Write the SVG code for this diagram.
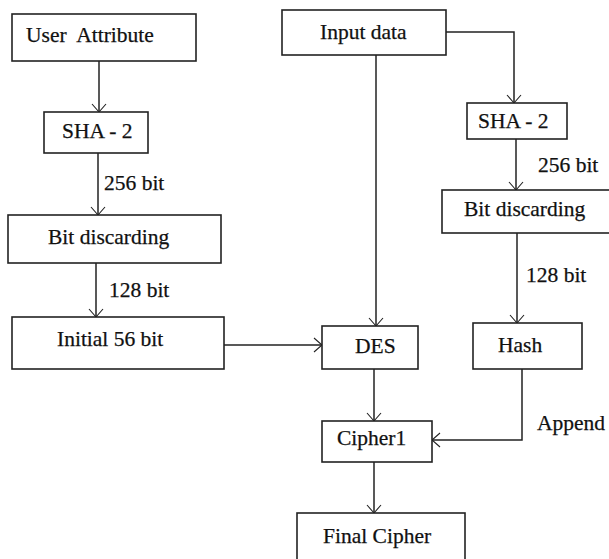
<svg xmlns="http://www.w3.org/2000/svg" width="609" height="559" viewBox="0 0 609 559">
<defs>
<marker id="arr" markerUnits="userSpaceOnUse" markerWidth="20" markerHeight="20" refX="0" refY="0" viewBox="-10 -10 20 20" orient="auto" overflow="visible">
<path d="M-8,-7 L0,0 L-8,7" fill="none" stroke="#222" stroke-width="1.1"/>
</marker>
</defs>
<style>
.box{fill:#fff;stroke:#222;stroke-width:1.6}
.t{font-family:'Liberation Serif','DejaVu Serif',serif;font-size:21.5px;fill:#111;stroke:#111;stroke-width:0.25}
.c{fill:none;stroke:#222;stroke-width:1.5}
.a{marker-end:url(#arr)}
</style>
<rect width="609" height="559" fill="#fff"/>
<g id="connectors">
<path class="c a" d="M99,61 L99,112"/>
<path class="c a" d="M98,153 L98,215"/>
<path class="c a" d="M96,263 L96,317"/>
<path class="c a" d="M224,345 L322,345"/>
<path class="c a" d="M376,55 L376,326"/>
<path class="c a" d="M446,32 L514,32 L514,103"/>
<path class="c a" d="M516,139 L516,190"/>
<path class="c a" d="M517,233 L517,323"/>
<path class="c a" d="M374,369 L374,421"/>
<path class="c a" d="M522,369 L522,440 L432,440"/>
<path class="c a" d="M374,462 L374,513"/>
<text class="t" x="104" y="190">256 bit</text>
<text class="t" x="109" y="297">128 bit</text>
<text class="t" x="538" y="172">256 bit</text>
<text class="t" x="526" y="282">128 bit</text>
<text class="t" x="537" y="430">Append</text>
</g>
<g id="user-attribute"><rect class="box" x="12" y="14" width="184" height="47"/><text class="t" x="26" y="42" xml:space="preserve">User  Attribute</text></g>
<g id="sha2-left"><rect class="box" x="44" y="112" width="104" height="41"/><text class="t" x="62" y="138">SHA - 2</text></g>
<g id="bit-discarding-left"><rect class="box" x="8" y="215" width="213" height="48"/><text class="t" x="48" y="244">Bit discarding</text></g>
<g id="initial-56"><rect class="box" x="12" y="317" width="212" height="52"/><text class="t" x="57" y="346">Initial 56 bit</text></g>
<g id="input-data"><rect class="box" x="282" y="10" width="164" height="45"/><text class="t" x="320" y="39">Input data</text></g>
<g id="sha2-right"><rect class="box" x="467" y="103" width="100" height="36"/><text class="t" x="478" y="128">SHA - 2</text></g>
<g id="bit-discarding-right"><rect class="box" x="442" y="190" width="172" height="43"/><text class="t" x="464" y="216">Bit discarding</text></g>
<g id="hash"><rect class="box" x="473" y="323" width="109" height="46"/><text class="t" x="498" y="352">Hash</text></g>
<g id="des"><rect class="box" x="322" y="326" width="96" height="43"/><text class="t" x="355" y="353">DES</text></g>
<g id="cipher1"><rect class="box" x="322" y="421" width="110" height="41"/><text class="t" x="337" y="445">Cipher1</text></g>
<g id="final-cipher"><rect class="box" x="297" y="513" width="168" height="52"/><text class="t" x="323" y="543">Final Cipher</text></g>
</svg>
